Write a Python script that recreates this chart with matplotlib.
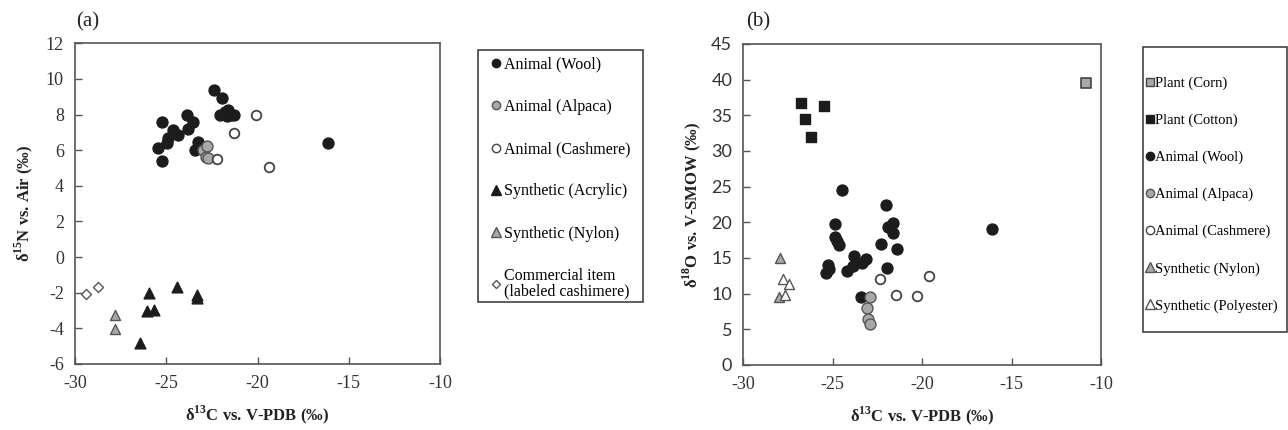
import matplotlib
matplotlib.use("Agg")
import matplotlib.pyplot as plt
from matplotlib.lines import Line2D
from matplotlib.patches import Rectangle

plt.rcParams['font.family'] = ['Liberation Serif', 'DejaVu Serif']
plt.rcParams['mathtext.fontset'] = 'custom'
plt.rcParams['mathtext.rm'] = 'Liberation Serif:bold'
plt.rcParams['mathtext.bf'] = 'Liberation Serif:bold'
plt.rcParams['axes.unicode_minus'] = False

# ---- panel (a): d13C vs d15N ----
wool_a_x = [-22.38, -21.96, -22.05, -21.8, -21.6, -21.45, -21.3, -21.65, -25.25, -23.88, -23.53,
            -24.63, -24.36, -24.9, -24.98, -25.45, -25.25, -23.8, -23.26, -23.42, -16.15]
wool_a_y = [9.38, 8.92, 8.0, 8.15, 8.25, 8.0, 8.0, 7.9, 7.6, 7.95, 7.6,
            7.14, 6.86, 6.69, 6.4, 6.1, 5.42, 7.18, 6.48, 6.0, 6.43]
alpaca_a_x = [-22.97, -22.78, -22.82, -22.7]
alpaca_a_y = [6.02, 6.24, 5.64, 5.55]
cashmere_a_x = [-20.1, -21.29, -22.24, -19.37]
cashmere_a_y = [7.98, 6.97, 5.49, 5.05]
acrylic_x = [-25.93, -24.43, -23.33, -23.3, -26.04, -25.67, -26.44]
acrylic_y = [-2.0, -1.66, -2.15, -2.32, -3.0, -2.97, -4.84]
nylon_a_x = [-27.8, -27.8]
nylon_a_y = [-3.25, -4.06]
commercial_x = [-29.42, -28.76]
commercial_y = [-2.07, -1.7]

# ---- panel (b): d13C vs d18O ----
corn_x = [-10.82]
corn_y = [39.5]
cotton_x = [-26.78, -25.49, -26.55, -26.22]
cotton_y = [36.7, 36.3, 34.5, 31.9]
wool_b_x = [-24.5, -24.88, -24.88, -24.75, -24.64, -25.25, -25.38, -25.2, -24.22, -23.8, -23.86,
            -23.39, -23.15, -23.44, -22.04, -21.9, -21.62, -21.62, -22.31, -21.43, -21.96, -16.1]
wool_b_y = [24.5, 19.7, 17.9, 17.3, 16.8, 14.0, 12.94, 13.4, 13.2, 15.3, 13.9,
            14.25, 14.86, 9.48, 22.35, 19.26, 19.9, 18.5, 16.97, 16.27, 13.55, 19.1]
alpaca_b_x = [-22.9, -23.1, -23.0, -22.9]
alpaca_b_y = [9.48, 7.93, 6.38, 5.73]
cashmere_b_x = [-22.37, -21.44, -20.26, -19.63]
cashmere_b_y = [12.0, 9.8, 9.66, 12.4]
nylon_b_x = [-27.93, -28.0]
nylon_b_y = [14.96, 9.5]
polyester_x = [-27.8, -27.43, -27.68]
polyester_y = [12.0, 11.35, 9.75]

BLACK = '#1c1c1c'
GRAY = '#a8a8a8'
EDGE = '#555555'
WHITE = 'white'

fig = plt.figure(figsize=(12.88, 4.30), dpi=100)
W, H = 1288, 430
ax1 = fig.add_axes([75 / W, 1 - 364 / H, 365 / W, (364 - 43.3) / H])
ax2 = fig.add_axes([743.3 / W, 1 - 364.8 / H, (1101 - 743.3) / W, (364.8 - 44) / H])

st = {
    'wool': dict(facecolor=BLACK, edgecolor=BLACK, marker='o', s=62),
    'alpaca': dict(facecolor=GRAY, edgecolor=EDGE, marker='o', s=62),
    'cashmere': dict(facecolor=WHITE, edgecolor='#444444', marker='o', s=48, linewidths=1.3),
    'acrylic': dict(facecolor=BLACK, edgecolor=BLACK, marker='^', s=60),
    'nylon': dict(facecolor=GRAY, edgecolor='#555555', marker='^', s=52),
    'commercial': dict(facecolor=WHITE, edgecolor='#555555', marker='D', s=26),
    'corn': dict(facecolor=GRAY, edgecolor='#444444', marker='s', s=50, linewidths=1.2),
    'cotton': dict(facecolor=BLACK, edgecolor=BLACK, marker='s', s=60),
    'polyester': dict(facecolor=WHITE, edgecolor='#555555', marker='^', s=52),
}

ax1.scatter(wool_a_x, wool_a_y, zorder=3, **st['wool'])
ax1.scatter(alpaca_a_x, alpaca_a_y, zorder=4, **st['alpaca'])
ax1.scatter(cashmere_a_x, cashmere_a_y, zorder=4, **st['cashmere'])
ax1.scatter(acrylic_x, acrylic_y, zorder=3, **st['acrylic'])
ax1.scatter(nylon_a_x, nylon_a_y, zorder=3, **st['nylon'])
ax1.scatter(commercial_x, commercial_y, zorder=3, **st['commercial'])

ax2.scatter(corn_x, corn_y, zorder=3, **st['corn'])
ax2.scatter(cotton_x, cotton_y, zorder=3, **st['cotton'])
ax2.scatter(wool_b_x, wool_b_y, zorder=3, **st['wool'])
ax2.scatter(alpaca_b_x, alpaca_b_y, zorder=4, **st['alpaca'])
ax2.scatter(cashmere_b_x, cashmere_b_y, zorder=4, **st['cashmere'])
ax2.scatter(nylon_b_x, nylon_b_y, zorder=3, **st['nylon'])
ax2.scatter(polyester_x, polyester_y, zorder=3, **st['polyester'])

ax1.set_xlim(-30, -10)
ax1.set_ylim(-6, 12)
ax1.set_xticks(range(-30, -9, 5))
ax1.set_yticks(range(-6, 13, 2))
ax2.set_xlim(-30, -10)
ax2.set_ylim(0, 45)
ax2.set_xticks(range(-30, -9, 5))
ax2.set_yticks(range(0, 46, 5))

for ax in (ax1, ax2):
    for sp in ax.spines.values():
        sp.set_color('#555555')
        sp.set_linewidth(1.2)
    ax.tick_params(direction='in', length=5, width=1, color='#555555',
                   labelsize=13, labelcolor='#333333', pad=8)
    ax.set_xlabel(r'δ$^{13}$C vs. V-PDB (‰)', fontsize=12, fontweight='bold',
                  color='#222222', labelpad=8)

for lab in ax2.get_yticklabels():
    lab.set_fontfamily('Lato')

ax1.set_ylabel(r'δ$^{15}$N vs. Air (‰)', fontsize=12, fontweight='bold', color='#222222', labelpad=8)
ax2.set_ylabel(r'δ$^{18}$O vs. V-SMOW (‰)', fontsize=12, fontweight='bold', color='#222222', labelpad=6)

fig.text(76 / W, 1 - 22 / H, '(a)', fontsize=15, va='center', color='#222222')
fig.text(746 / W, 1 - 22 / H, '(b)', fontsize=15, va='center', color='#222222')


def handle(key, ms):
    d = st[key]
    return Line2D([], [], linestyle='none', marker=d['marker'], markersize=ms,
                  markerfacecolor=d['facecolor'], markeredgecolor=d['edgecolor'], markeredgewidth=1)


def box(x0, y0, x1, y1):
    fig.add_artist(Rectangle((x0 / W, 1 - y1 / H), (x1 - x0) / W, (y1 - y0) / H,
                             transform=fig.transFigure, fill=False, edgecolor='#333333', linewidth=1.1))


labels_a = ['Animal (Wool)', 'Animal (Alpaca)', 'Animal (Cashmere)', 'Synthetic (Acrylic)',
            'Synthetic (Nylon)', 'Commercial item\n(labeled cashimere)']
handles_a = [handle('wool', 6), handle('alpaca', 6), handle('cashmere', 6),
             handle('acrylic', 7), handle('nylon', 7), handle('commercial', 4.5)]
leg1 = fig.legend(handles_a, labels_a, loc='upper left', bbox_to_anchor=(490 / W, 1 - 56.4 / H),
                  bbox_transform=fig.transFigure, frameon=False,
                  prop={'family': 'Liberation Serif', 'size': 11.5}, labelspacing=1.65,
                  handlelength=0.7, handletextpad=0.2, borderpad=0, borderaxespad=0)
leg1.get_texts()[-1].set_linespacing(0.95)
box(478.3, 50, 642.7, 302.3)

labels_b = ['Plant (Corn)', 'Plant (Cotton)', 'Animal (Wool)', 'Animal (Alpaca)', 'Animal (Cashmere)',
            'Synthetic (Nylon)', 'Synthetic (Polyester)']
handles_b = [handle('corn', 6), handle('cotton', 6), handle('wool', 6), handle('alpaca', 6),
             handle('cashmere', 6), handle('nylon', 7), handle('polyester', 7)]
leg2 = fig.legend(handles_b, labels_b, loc='upper left', bbox_to_anchor=(1146.3 / W, 1 - 76.5 / H),
                  bbox_transform=fig.transFigure, frameon=False,
                  prop={'family': 'Liberation Serif', 'size': 10.5}, labelspacing=1.62,
                  handlelength=0.5, handletextpad=0.1, borderpad=0, borderaxespad=0)
box(1143, 46.7, 1287, 331.7)

fig.savefig('out.png', dpi=100)
